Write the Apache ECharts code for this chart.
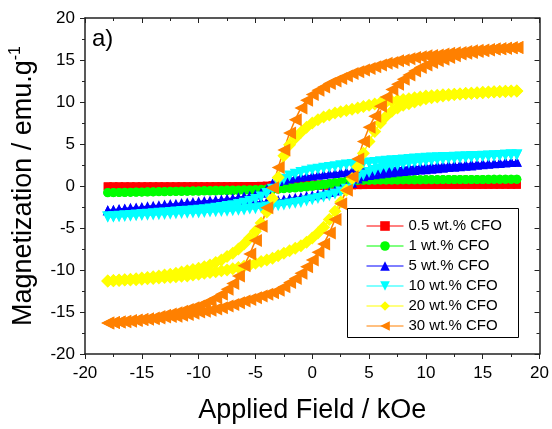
<!DOCTYPE html>
<html>
<head>
<meta charset="utf-8">
<script src="https://cdn.jsdelivr.net/npm/echarts@6/dist/echarts.min.js"></script>
<style>
    html, body { margin: 0; padding: 0; background: #fff; }
    #chart { width: 552px; height: 429px; }
</style>
</head>
<body>
<div id="chart"></div>
<script>
// applied field (kOe): descending branch 18 -> -18, ascending branch -18 -> 18
var fieldDown = [18, 17.5, 17, 16.5, 16, 15.5, 15, 14.5, 14, 13.5, 13, 12.5, 12, 11.5, 11, 10.5, 10, 9.5, 9, 8.5,
    8, 7.5, 7, 6.5, 6, 5.5, 5, 4.5, 4, 3.5, 3, 2.5, 2, 1.5, 1, 0.5, 0, -0.5, -1, -1.5, -2, -2.5, -3, -3.5, -4, -4.5, -5, -5.5, -6, -6.5, -7, -7.5, -8,
    -8.5, -9, -9.5, -10, -10.5, -11, -11.5, -12, -12.5, -13, -13.5, -14, -14.5, -15, -15.5, -16, -16.5, -17, -17.5, -18];
var fieldUp = [-18, -17.5, -17, -16.5, -16, -15.5, -15, -14.5, -14, -13.5, -13, -12.5, -12, -11.5, -11, -10.5, -10, -9.5, -9, -8.5,
    -8, -7.5, -7, -6.5, -6, -5.5, -5, -4.5, -4, -3.5, -3, -2.5, -2, -1.5, -1, -0.5, 0, 0.5, 1, 1.5, 2, 2.5, 3, 3.5, 4, 4.5, 5, 5.5, 6, 6.5, 7, 7.5, 8,
    8.5, 9, 9.5, 10, 10.5, 11, 11.5, 12, 12.5, 13, 13.5, 14, 14.5, 15, 15.5, 16, 16.5, 17, 17.5, 18];

var names = ['0.5 wt.% CFO', '1 wt.% CFO', '5 wt.% CFO', '10 wt.% CFO', '20 wt.% CFO', '30 wt.% CFO'];
var colors = ['#ff0000', '#00ff00', '#0000ff', '#00ffff', '#ffff00', '#ff8000'];

// magnetization (emu/g)
var cfo05Down = [0.15, 0.15, 0.15, 0.15, 0.15, 0.14, 0.14, 0.14, 0.14, 0.14, 0.14, 0.13, 0.13, 0.13, 0.13, 0.13, 0.13, 0.13, 0.13, 0.13,
    0.13, 0.13, 0.13, 0.13, 0.13, 0.13, 0.14, 0.14, 0.14, 0.14, 0.15, 0.15, 0.16, 0.17, 0.18, 0.19, 0.2, 0.2, 0.2, 0.2, 0.19, 0.18, 0.15, 0.1, 0.05, 0.02, 0, 0, -0.01, -0.01, -0.02, -0.02, -0.02,
    -0.02, -0.03, -0.03, -0.03, -0.03, -0.03, -0.03, -0.04, -0.04, -0.04, -0.04, -0.04, -0.04, -0.05, -0.05, -0.05, -0.05, -0.05, -0.05, -0.05];
var cfo05Up = [-0.05, -0.05, -0.05, -0.05, -0.05, -0.05, -0.05, -0.05, -0.05, -0.05, -0.05, -0.05, -0.05, -0.05, -0.05, -0.05, -0.05, -0.05, -0.05, -0.05,
    -0.05, -0.05, -0.05, -0.05, -0.05, -0.05, -0.05, -0.05, -0.05, -0.05, -0.05, -0.05, -0.05, -0.04, -0.03, -0.02, 0, 0.01, 0.02, 0.03, 0.04, 0.05, 0.06, 0.08, 0.1, 0.11, 0.12, 0.12, 0.12, 0.13, 0.13, 0.13, 0.13,
    0.13, 0.13, 0.13, 0.13, 0.13, 0.13, 0.13, 0.13, 0.14, 0.14, 0.14, 0.14, 0.14, 0.14, 0.15, 0.15, 0.15, 0.15, 0.15, 0.15];

var cfo1Down = [0.8, 0.8, 0.79, 0.79, 0.79, 0.78, 0.78, 0.78, 0.78, 0.77, 0.77, 0.77, 0.77, 0.76, 0.76, 0.76, 0.76, 0.75, 0.75, 0.75,
    0.75, 0.74, 0.74, 0.73, 0.73, 0.72, 0.72, 0.71, 0.7, 0.68, 0.6, 0.5, 0.42, 0.33, 0.25, 0.16, 0.08, 0, -0.07, -0.13, -0.18, -0.22, -0.26, -0.3, -0.36, -0.4, -0.43, -0.45, -0.46, -0.47, -0.48, -0.49, -0.5,
    -0.51, -0.53, -0.54, -0.56, -0.57, -0.59, -0.6, -0.62, -0.63, -0.65, -0.66, -0.68, -0.69, -0.7, -0.72, -0.73, -0.75, -0.76, -0.77, -0.78];
var cfo1Up = [-0.8, -0.79, -0.78, -0.77, -0.76, -0.74, -0.73, -0.71, -0.7, -0.69, -0.68, -0.67, -0.66, -0.65, -0.64, -0.63, -0.62, -0.61, -0.6, -0.59,
    -0.58, -0.57, -0.56, -0.55, -0.54, -0.53, -0.51, -0.49, -0.46, -0.43, -0.39, -0.34, -0.29, -0.24, -0.19, -0.13, -0.06, 0.02, 0.1, 0.19, 0.28, 0.38, 0.48, 0.58, 0.64, 0.67, 0.69, 0.7, 0.71, 0.71, 0.72, 0.72, 0.73,
    0.73, 0.74, 0.74, 0.75, 0.75, 0.75, 0.76, 0.76, 0.76, 0.77, 0.77, 0.78, 0.78, 0.78, 0.79, 0.79, 0.79, 0.8, 0.8, 0.8];

var cfo5Down = [2.9, 2.88, 2.85, 2.8, 2.75, 2.72, 2.7, 2.68, 2.65, 2.6, 2.55, 2.52, 2.5, 2.48, 2.45, 2.4, 2.35, 2.32, 2.3, 2.25,
    2.2, 2.18, 2.15, 2.1, 2.05, 2.0, 1.95, 1.9, 1.85, 1.78, 1.7, 1.63, 1.55, 1.48, 1.4, 1.33, 1.25, 1.18, 1.1, 1.0, 0.9, 0.75, 0.6, 0.3, -0.4, -0.8, -1.0, -1.15, -1.25, -1.35, -1.45, -1.52, -1.6,
    -1.66, -1.72, -1.78, -1.85, -1.9, -1.95, -2.02, -2.1, -2.15, -2.2, -2.28, -2.35, -2.42, -2.5, -2.55, -2.6, -2.68, -2.75, -2.82, -2.9];
var cfo5Up = [-2.9, -2.85, -2.8, -2.75, -2.7, -2.65, -2.6, -2.55, -2.5, -2.45, -2.4, -2.35, -2.3, -2.26, -2.22, -2.18, -2.15, -2.12, -2.1, -2.08,
    -2.05, -2.02, -2.0, -1.98, -1.95, -1.92, -1.9, -1.88, -1.85, -1.8, -1.7, -1.6, -1.5, -1.4, -1.3, -1.2, -1.1, -0.98, -0.85, -0.7, -0.55, -0.35, -0.1, 0.4, 0.9, 1.15, 1.3, 1.4, 1.5, 1.58, 1.65, 1.72, 1.8,
    1.85, 1.9, 1.95, 2.0, 2.05, 2.1, 2.18, 2.25, 2.3, 2.35, 2.4, 2.45, 2.52, 2.6, 2.65, 2.7, 2.75, 2.8, 2.85, 2.9];

var cfo10Down = [3.7, 3.68, 3.65, 3.62, 3.6, 3.58, 3.55, 3.52, 3.5, 3.48, 3.45, 3.42, 3.4, 3.38, 3.35, 3.32, 3.3, 3.25, 3.2, 3.15,
    3.1, 3.05, 3.0, 2.95, 2.9, 2.8, 2.75, 2.7, 2.6, 2.55, 2.5, 2.4, 2.3, 2.2, 2.1, 2.0, 1.9, 1.75, 1.6, 1.4, 1.2, 0.8, 0.3, -0.4, -0.9, -1.3, -1.6, -1.85, -2.05, -2.2, -2.35, -2.45, -2.55,
    -2.65, -2.75, -2.82, -2.9, -2.95, -3.0, -3.05, -3.1, -3.15, -3.2, -3.25, -3.3, -3.35, -3.4, -3.45, -3.5, -3.55, -3.6, -3.65, -3.7];
var cfo10Up = [-3.7, -3.68, -3.65, -3.62, -3.6, -3.55, -3.5, -3.48, -3.45, -3.42, -3.4, -3.35, -3.3, -3.28, -3.25, -3.22, -3.2, -3.15, -3.1, -3.08,
    -3.05, -3.0, -2.95, -2.9, -2.85, -2.75, -2.7, -2.6, -2.5, -2.45, -2.35, -2.25, -2.15, -2.05, -1.95, -1.8, -1.65, -1.5, -1.3, -1.15, -0.95, -0.7, -0.4, 0.3, 0.9, 1.3, 1.6, 1.85, 2.05, 2.2, 2.35, 2.45, 2.6,
    2.7, 2.8, 2.88, 2.95, 3.02, 3.1, 3.15, 3.2, 3.25, 3.3, 3.35, 3.4, 3.45, 3.5, 3.52, 3.55, 3.6, 3.65, 3.68, 3.7];

var cfo20Down = [11.3, 11.28, 11.25, 11.22, 11.2, 11.15, 11.1, 11.08, 11.05, 11.0, 10.95, 10.92, 10.9, 10.85, 10.8, 10.75, 10.7, 10.6, 10.5, 10.4,
    10.3, 10.2, 10.1, 10.0, 9.9, 9.75, 9.6, 9.45, 9.3, 9.15, 9.0, 8.85, 8.7, 8.45, 8.2, 7.9, 7.5, 7.0, 6.4, 5.7, 4.9, 3.6, 1.0, -1.5, -3.1, -4.4, -5.4, -6.2, -6.9, -7.5, -8.0, -8.4, -8.8,
    -9.1, -9.4, -9.6, -9.8, -9.95, -10.1, -10.25, -10.4, -10.5, -10.6, -10.7, -10.8, -10.9, -10.95, -11.05, -11.1, -11.15, -11.2, -11.25, -11.3];
var cfo20Up = [-11.3, -11.28, -11.25, -11.2, -11.2, -11.15, -11.1, -11.05, -11.0, -10.95, -10.9, -10.85, -10.8, -10.75, -10.7, -10.6, -10.5, -10.4, -10.3, -10.2,
    -10.1, -10.0, -9.85, -9.7, -9.55, -9.4, -9.2, -9.0, -8.8, -8.6, -8.3, -8.0, -7.7, -7.4, -7.1, -6.7, -6.2, -5.6, -4.9, -4.0, -3.0, -1.9, -0.5, 0.9, 2.3, 3.9, 5.3, 6.5, 7.5, 8.3, 8.9, 9.3, 9.6,
    9.8, 10.0, 10.2, 10.4, 10.5, 10.6, 10.7, 10.8, 10.88, 10.95, 11.0, 11.05, 11.1, 11.15, 11.2, 11.22, 11.25, 11.28, 11.3, 11.3];

var cfo30Down = [16.5, 16.45, 16.4, 16.35, 16.3, 16.25, 16.2, 16.15, 16.1, 16.0, 15.9, 15.85, 15.8, 15.7, 15.6, 15.55, 15.5, 15.4, 15.3, 15.15,
    15.0, 14.9, 14.7, 14.6, 14.4, 14.2, 14.0, 13.8, 13.6, 13.4, 13.1, 12.8, 12.5, 12.2, 11.8, 11.4, 10.9, 10.2, 9.3, 7.9, 6.3, 4.3, 2.2, -0.2, -2.6, -4.8, -6.5, -8.1, -9.5, -10.7, -11.6, -12.3, -12.9,
    -13.3, -13.7, -14.0, -14.3, -14.5, -14.7, -14.9, -15.1, -15.25, -15.4, -15.55, -15.7, -15.8, -15.9, -15.95, -16.0, -16.1, -16.2, -16.25, -16.3];
var cfo30Up = [-16.3, -16.25, -16.2, -16.15, -16.1, -16.0, -15.9, -15.85, -15.8, -15.7, -15.6, -15.55, -15.5, -15.4, -15.3, -15.15, -15.0, -14.9, -14.8, -14.65,
    -14.5, -14.3, -14.1, -13.9, -13.7, -13.5, -13.3, -13.1, -12.9, -12.7, -12.4, -12.0, -11.5, -11.0, -10.4, -9.6, -8.8, -7.9, -6.9, -5.6, -4.0, -2.1, -0.5, 1.1, 3.2, 5.3, 7.0, 8.3, 9.5, 10.6, 11.5, 12.1, 12.7,
    13.2, 13.7, 14.1, 14.4, 14.7, 14.9, 15.1, 15.3, 15.5, 15.7, 15.8, 15.9, 16.0, 16.1, 16.2, 16.3, 16.35, 16.4, 16.45, 16.5];

var symbols = ['rect', 'circle', 'triangle', 'triangle', 'diamond', 'triangle'];
var symbolSizes = [8, 9, 10, 11, 13, 13];
var symbolRotates = [0, 0, 0, 180, 0, 90];

var xTicks = [-20, 20, 5];
var yTicks = [-20, 20, 5];

var FONT = 'Liberation Sans, Arial, sans-serif';

/**
 * @description 把一条下降支和一条上升支拼成一个回线
 */
function loop(down, up) {
    var pts = [];
    for (var i = 0; i < fieldDown.length; i++) {
        pts.push([fieldDown[i], down[i]]);
    }
    for (var j = 0; j < fieldUp.length; j++) {
        pts.push([fieldUp[j], up[j]]);
    }
    return pts;
}

var loops = [
    loop(cfo05Down, cfo05Up),
    loop(cfo1Down, cfo1Up),
    loop(cfo5Down, cfo5Up),
    loop(cfo10Down, cfo10Up),
    loop(cfo20Down, cfo20Up),
    loop(cfo30Down, cfo30Up)
];

// 每个样品一个图例, 外框另用矩形画
var series = [];
var legends = [];
for (var k = 0; k < names.length; k++) {
    series.push({
        name: names[k],
        type: 'line',
        data: loops[k],
        symbol: symbols[k],
        symbolSize: symbolSizes[k],
        symbolRotate: symbolRotates[k],
        showAllSymbol: true,
        color: colors[k],
        itemStyle: {color: colors[k], borderWidth: 0},
        lineStyle: {color: colors[k], width: 1.5},
        xAxisIndex: 0,
        yAxisIndex: 0
    });
    legends.push({
        orient: 'vertical',
        left: 366,
        top: 218.5 + k * 20,
        padding: 0,
        itemWidth: 37,
        itemHeight: 12,
        itemGap: 0,
        lineStyle: {color: colors[k], width: 1, opacity: 1, type: 'solid'},
        itemStyle: {color: colors[k], borderWidth: 0},
        textStyle: {fontSize: 15, color: '#000', fontFamily: FONT},
        data: [names[k]]
    });
}

function axisBase(isX, main) {
    var r = isX ? xTicks : yTicks;
    return {
        type: 'value',
        min: r[0],
        max: r[1],
        interval: r[2],
        position: isX ? (main ? 'bottom' : 'top') : (main ? 'left' : 'right'),
        axisLine: {show: true, onZero: false, lineStyle: {color: '#222', width: 1.5}},
        axisTick: {show: true, inside: !main, length: 5, lineStyle: {color: '#222', width: 1}},
        minorTick: {show: true, splitNumber: 2, length: 3, lineStyle: {color: '#222', width: 1}},
        axisLabel: {show: main, fontSize: 17, color: '#000', fontFamily: FONT, margin: isX ? 11 : 10},
        splitLine: {show: false}
    };
}

var xMain = axisBase(true, true);
xMain.name = 'Applied Field / kOe';
xMain.nameLocation = 'middle';
xMain.nameGap = 43;
xMain.nameTextStyle = {fontSize: 27, color: '#000', fontFamily: FONT};

var yMain = axisBase(false, true);
yMain.name = 'Magnetization / emu.g{sup|-1}';
yMain.nameLocation = 'middle';
yMain.nameGap = 46;
yMain.nameTextStyle = {
    fontSize: 27, color: '#000', fontFamily: FONT,
    rich: {sup: {fontSize: 16, color: '#000', fontFamily: FONT, padding: [0, 0, 15, 0]}}
};

var myChart = echarts.init(document.getElementById('chart'));
var option = {
    animation: false,
    backgroundColor: '#fff',
    title: {
        text: 'a)',
        left: 87,
        top: 22,
        textStyle: {fontSize: 24, fontWeight: 'normal', color: '#000', fontFamily: FONT}
    },
    grid: {left: 82, right: 11, top: 18, bottom: 74, containLabel: false},
    legend: legends,
    graphic: [{
        type: 'rect',
        left: 347,
        top: 208,
        shape: {width: 171, height: 129},
        style: {fill: 'rgba(0,0,0,0)', stroke: '#000', lineWidth: 1},
        z: 100
    }],
    xAxis: [xMain, axisBase(true, false)],
    yAxis: [yMain, axisBase(false, false)],
    series: series
};
myChart.setOption(option, true);
</script>
</body>
</html>
